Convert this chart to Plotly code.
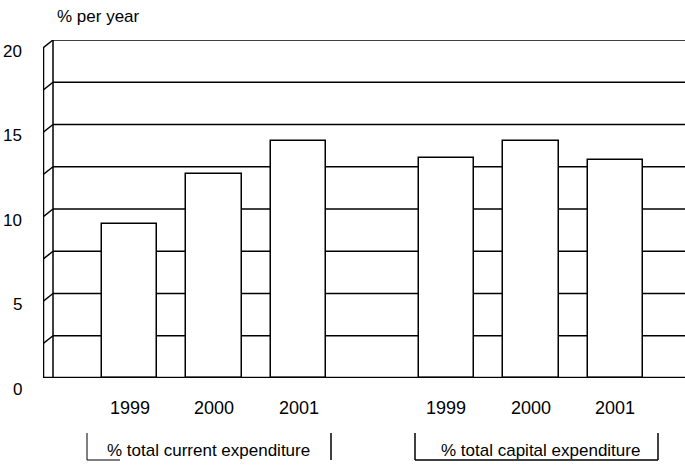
import plotly.graph_objects as go

# ---- data ----
groups = ["% total current expenditure", "% total capital expenditure"]
years = ["1999", "2000", "2001"]
current_values = [9.1, 12.1, 14.0]
capital_values = [13.0, 14.0, 12.9]
y_tick_vals = [0, 5, 10, 15, 20]
grid_vals = [0, 2.5, 5, 7.5, 10, 12.5, 15, 17.5, 20]
y_title = "% per year"

# ---- layout geometry (pixels) ----
W, H = 685, 470
L, R, T, B = 43, 0, 40, 92          # plot area: x 43..685, y 40..378
unit = 84.5                          # px per x unit
group_offset = 3.75
bar1_px = 129.5
plot_w = W - L - R
plot_h = H - T - B
x_lo = 1 - (bar1_px - L) / unit
x_hi = x_lo + plot_w / unit
y_lo, y_hi = 0, 20

def px_to_x(px):
    return x_lo + (px - L) / unit

def py_to_paper(py):
    return (H - B - py) / plot_h

def px_to_paper(px):
    return (px - L) / plot_w

series = [current_values, capital_values]
xs, ys, labels = [], [], []
for g, vals in enumerate(series):
    for i, v in enumerate(vals):
        xs.append(1 + g * group_offset + i)
        ys.append(v)
        labels.append(years[i])

FONT = "Liberation Sans, Arial, sans-serif"

fig = go.Figure()
fig.add_trace(go.Bar(
    x=xs, y=ys, width=55.6 / unit,
    marker=dict(color="white", line=dict(color="black", width=1.5)),
    hoverinfo="y", showlegend=False,
))

shapes = []
back_x = px_to_x(53)
front_x = px_to_x(43)
drop = 8 / (plot_h / (y_hi - y_lo))  # 8 px in y units
for v in grid_vals:
    shapes.append(dict(type="line", xref="x", yref="y", x0=back_x, x1=x_hi,
                       y0=v, y1=v, line=dict(color="black", width=1.5), layer="below"))
    shapes.append(dict(type="line", xref="x", yref="y", x0=front_x, x1=back_x,
                       y0=v - drop, y1=v, line=dict(color="black", width=1.5), layer="below"))
shapes.append(dict(type="line", xref="x", yref="y", x0=back_x, x1=back_x, y0=0, y1=20,
                   line=dict(color="black", width=1.5), layer="below"))
shapes.append(dict(type="line", xref="x", yref="y", x0=front_x, x1=front_x, y0=-drop, y1=20 - drop,
                   line=dict(color="black", width=2.5), layer="below"))
shapes.append(dict(type="line", xref="x", yref="y", x0=front_x, x1=x_hi, y0=0, y1=0,
                   line=dict(color="black", width=2.5), layer="above"))

def vline(px, py0, py1, w=1.5):
    return dict(type="line", xref="paper", yref="paper",
                x0=px_to_paper(px), x1=px_to_paper(px),
                y0=py_to_paper(py0), y1=py_to_paper(py1),
                line=dict(color="black", width=w))

def hline(px0, px1, py, w=1.5):
    return dict(type="line", xref="paper", yref="paper",
                x0=px_to_paper(px0), x1=px_to_paper(px1),
                y0=py_to_paper(py), y1=py_to_paper(py),
                line=dict(color="black", width=w))

shapes += [vline(87, 433, 460, 1), vline(331, 433, 460), hline(87, 120, 460, 1),
           vline(415, 433, 460), vline(658, 433, 460), hline(415, 658, 460)]

annotations = []
for v in y_tick_vals:
    annotations.append(dict(x=0, xref="paper", y=v, yref="y", text=str(v), showarrow=False,
                            xanchor="right", yanchor="middle", xshift=-19, yshift=-11,
                            font=dict(family=FONT, size=17, color="black")))
for x, lab in zip(xs, labels):
    annotations.append(dict(x=x, xref="x", y=0, yref="y", text=lab, showarrow=False,
                            xanchor="center", yanchor="middle", yshift=-30,
                            font=dict(family=FONT, size=18, color="black")))
group_centers_px = [209, 540]
for gname, cpx in zip(groups, group_centers_px):
    annotations.append(dict(x=px_to_paper(cpx), xref="paper", y=py_to_paper(450), yref="paper",
                            text=gname, showarrow=False, xanchor="center", yanchor="middle",
                            font=dict(family=FONT, size=17, color="black")))
annotations.append(dict(x=px_to_paper(55), xref="paper", y=py_to_paper(17), yref="paper",
                        text=y_title, showarrow=False, xanchor="left", yanchor="middle",
                        font=dict(family=FONT, size=17, color="black")))

fig.update_layout(
    width=W, height=H,
    margin=dict(l=L, r=R, t=T, b=B),
    paper_bgcolor="white", plot_bgcolor="white",
    xaxis=dict(range=[x_lo, x_hi], showgrid=False, zeroline=False, showticklabels=False,
               showline=False, ticks="", fixedrange=True),
    yaxis=dict(range=[y_lo, y_hi], showgrid=False, zeroline=False, showticklabels=False,
               showline=False, ticks="", fixedrange=True),
    shapes=shapes, annotations=annotations,
    bargap=0,
)

fig.write_html("out.html", config={"displayModeBar": False},
               post_script="document.body.style.margin='0px';")
